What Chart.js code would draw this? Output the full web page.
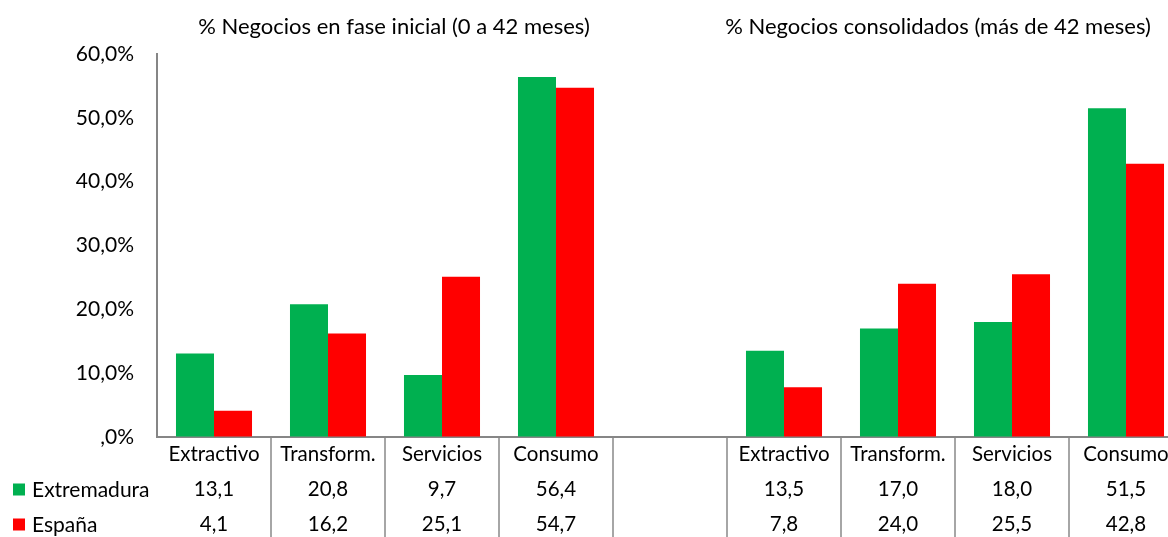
<!DOCTYPE html>
<html>
<head>
<meta charset="utf-8">
<script src="https://cdn.jsdelivr.net/npm/chart.js@4/dist/chart.umd.min.js"></script>
<style>
  html, body { margin: 0; padding: 0; background: #fff; overflow: hidden; }
  #wrap { width: 1184px; height: 537px; }
</style>
</head>
<body>
<div id="wrap"><canvas id="chart" width="1184" height="537"></canvas></div>
<script>
// datos
const sectores = ['Extractivo', 'Transform.', 'Servicios', 'Consumo'];
const extInicial = [13.1, 20.8, 9.7, 56.4];
const espInicial = [4.1, 16.2, 25.1, 54.7];
const extConsolidado = [13.5, 17.0, 18.0, 51.5];
const espConsolidado = [7.8, 24.0, 25.5, 42.8];
const series = ['Extremadura', 'España'];
const titulos = ['% Negocios en fase inicial (0 a 42 meses)', '% Negocios consolidados (más de 42 meses)'];
const yTicks = [0, 10, 20, 30, 40, 50, 60];

const colores = ['#00B050', '#FF0000'];
const FONT = 'Lato, "Open Sans", sans-serif';
const ROW_H = 35;

// una categoria vacia separa los dos bloques
const extremadura = [...extInicial, null, ...extConsolidado];
const espana = [...espInicial, null, ...espConsolidado];
const cats = [...sectores, '', ...sectores];

const fmt = v => v == null ? '' : v.toFixed(1).replace('.', ',');
const labels = cats.map((c, i) => [c, fmt(extremadura[i]), fmt(espana[i])]);

const extras = {
  id: 'extras',
  afterDraw(chart) {
    const ctx = chart.ctx;
    const xs = chart.scales.x;
    ctx.save();
    ctx.fillStyle = '#000';
    ctx.font = '22px ' + FONT;
    ctx.textAlign = 'center';
    ctx.textBaseline = 'middle';
    ctx.fillText(titulos[0], 394, 27);
    ctx.fillText(titulos[1], 938, 27);

    // claves de la tabla de datos
    ctx.font = '21px ' + FONT;
    ctx.textAlign = 'left';
    series.forEach((s, i) => {
      const y = xs.top + ROW_H / 2 + (i + 1) * ROW_H;
      ctx.fillStyle = colores[i];
      ctx.fillRect(13, y - 6, 12, 12);
      ctx.fillStyle = '#000';
      ctx.fillText(s, 32, y + 1);
    });
    ctx.restore();
  }
};

new Chart(document.getElementById('chart'), {
  type: 'bar',
  data: {
    labels: labels,
    datasets: [
      { label: series[0], data: extremadura, backgroundColor: colores[0] },
      { label: series[1], data: espana, backgroundColor: colores[1] }
    ]
  },
  options: {
    responsive: false,
    animation: false,
    devicePixelRatio: 1,
    layout: { padding: { top: 54, right: 1, left: 0, bottom: 0 } },
    datasets: { bar: { categoryPercentage: 0.667, barPercentage: 1, borderWidth: 0 } },
    plugins: { legend: { display: false }, tooltip: { enabled: false }, title: { display: false } },
    scales: {
      x: {
        offset: true,
        grid: {
          offset: true,
          drawOnChartArea: false,
          tickLength: 100,
          lineWidth: 2,
          color: c => c.index === 0 ? 'rgba(0,0,0,0)' : '#a6a6a6'
        },
        border: { color: '#868686', width: 2 },
        ticks: {
          padding: -100,
          autoSkip: false,
          maxRotation: 0,
          color: '#000',
          font: { family: FONT, size: 20.5, lineHeight: ROW_H + 'px' }
        },
        afterFit: s => { s.height = 100; }
      },
      y: {
        min: 0,
        max: 60,
        afterBuildTicks: s => { s.ticks = yTicks.map(v => ({ value: v })); },
        grid: { drawOnChartArea: false, drawTicks: false },
        border: { color: '#868686', width: 2 },
        ticks: {
          padding: 23,
          color: '#000',
          font: { family: FONT, size: 21 },
          callback: v => v === 0 ? ',0%' : v.toFixed(1).replace('.', ',') + '%'
        },
        afterFit: s => { s.width = 157; }
      }
    }
  },
  plugins: [extras]
});
</script>
</body>
</html>
